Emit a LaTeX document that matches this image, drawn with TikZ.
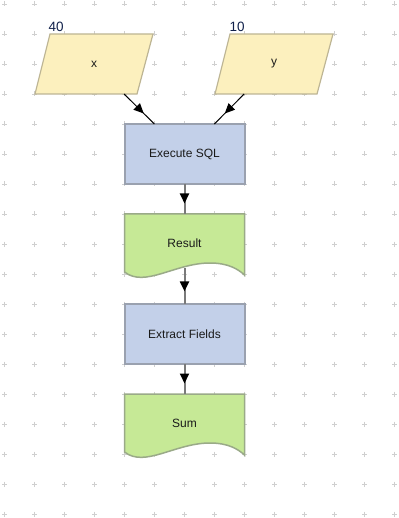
\documentclass[tikz,border=0pt]{standalone}
\usepackage{fontspec}
\setmainfont{Liberation Sans}
\usetikzlibrary{arrows.meta,decorations.markings}
\definecolor{paraFill}{HTML}{FCF0BE}
\definecolor{paraDraw}{HTML}{BDB594}
\definecolor{procFill}{HTML}{C3D0E9}
\definecolor{procDraw}{HTML}{9AA1AF}
\definecolor{docFill}{HTML}{C6E996}
\definecolor{docDraw}{HTML}{9AAA88}
\definecolor{connGray}{HTML}{7A7A7A}
\definecolor{gridGray}{HTML}{CFCFCF}
\definecolor{txt}{HTML}{1A1A1A}
\definecolor{valTxt}{HTML}{10204A}
\begin{document}
\begin{tikzpicture}[x=1pt,y=-1pt,
  font=\fontsize{12}{14}\selectfont, text=txt,
  paranode/.style={rectangle, minimum width=88pt, minimum height=60pt,
    inner sep=0pt, outer sep=0pt},
  parashape/.style={fill=paraFill, draw=paraDraw, line width=1.2pt},
  proc/.style={rectangle, minimum width=120pt, minimum height=60pt,
    inner sep=0pt, outer sep=0pt, fill=procFill, draw=procDraw, line width=2pt},
  docnode/.style={rectangle, minimum width=120pt, minimum height=54pt,
    inner sep=0pt, outer sep=0pt},
  docshape/.style={fill=docFill, draw=docDraw, line width=1.5pt},
  valtext/.style={anchor=base west, inner sep=0pt, text=valTxt,
    font=\fontsize{13.5}{15}\selectfont},
  midarrow/.style={postaction={decorate}, decoration={markings,
    mark=at position 0.65 with {\arrow[color=black]{Triangle[length=10pt,width=9pt]}}}},
  connv/.style={draw=connGray, line width=2pt, midarrow},
  connd/.style={draw=black, line width=1pt, midarrow},
  gridmark/.style={draw=gridGray, line width=0.8pt}
]
\useasboundingbox (0,0) rectangle (398,518);
\fill[white] (0,0) rectangle (398,518);
% grid crosses
\foreach \i in {0,...,13}{
  \foreach \j in {0,...,17}{
    \pgfmathsetmacro{\gx}{4.5+30*\i}
    \pgfmathsetmacro{\gy}{4+30*\j}
    \draw[gridmark] (\gx-2.5,\gy) -- (\gx+2.5,\gy) (\gx,\gy-2.5) -- (\gx,\gy+2.5);
  }
}
% parallelogram shapes
\foreach \c in {94,274}{
  \filldraw[parashape] (\c-59,94) -- (\c+43,94) -- (\c+59,34) -- (\c-44,34) -- cycle;
}
% document shapes
\foreach \t in {214,394}{
  \filldraw[docshape] (124.5,\t) -- (244.5,\t) -- (244.5,\t+61)
    .. controls (238,\t+55) and (228,\t+49) .. (210,\t+49)
    .. controls (175,\t+49) and (145,\t+74) .. (124.5,\t+58) -- cycle;
}
% nodes
\node[paranode] (x) at (94,64) {x};
\node[paranode] (y) at (274,64) {y};
\node[valtext] (xv) at (48.5,32) {40};
\node[valtext] (yv) at (229.5,32) {10};
\node[proc] (exec) at (184.5,154) {Execute SQL};
\node[docnode, label={[yshift=-2pt]center:Result}] (res) at (184.5,241) {};
\node[proc] (ext) at (184.5,334) {Extract Fields};
\node[docnode, label={[yshift=-2pt]center:Sum}] (sum) at (184.5,421) {};
% connectors
\draw[connd] (x) -- (exec);
\draw[connd] (y) -- (exec);
\draw[connv] (exec) -- (res);
\draw[connv] (res) -- (ext);
\draw[connv] (ext) -- (sum);
\end{tikzpicture}
\end{document}
